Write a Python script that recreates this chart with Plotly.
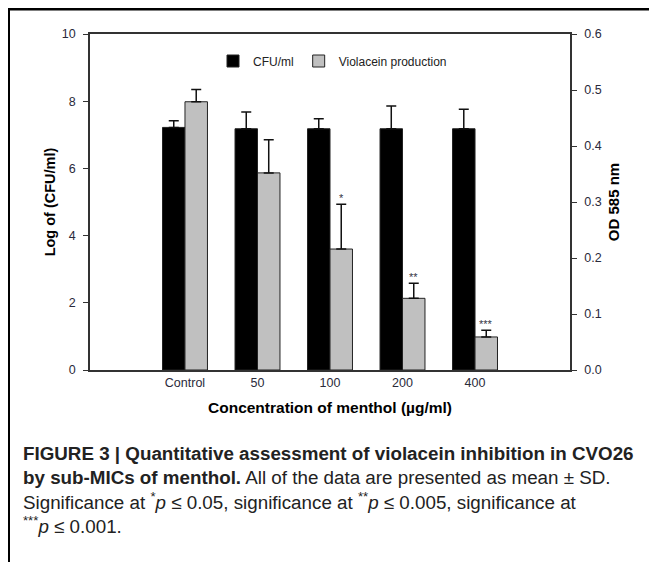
import plotly.graph_objects as go

categories = ["Control", "50", "100", "200", "400"]
cfu_mean = [7.22, 7.18, 7.18, 7.18, 7.18]
cfu_sd = [0.20, 0.50, 0.30, 0.68, 0.58]
vio_mean = [0.479, 0.352, 0.216, 0.128, 0.059]
vio_sd = [0.022, 0.059, 0.080, 0.027, 0.012]
significance = ["", "", "*", "**", "***"]
left_ticks = [0, 2, 4, 6, 8, 10]
right_ticks = [0.0, 0.1, 0.2, 0.3, 0.4, 0.5, 0.6]

xpos = list(range(len(categories)))
FONT = "Arial, Liberation Sans, sans-serif"
TICK_COLOR = "#2a2a3a"
BW = 0.31

# figure geometry (page is offset by the 8px body margin)
W, H = 649, 554
L, T, PW, PH = 82, 26, 480, 336


def px(fx):
    return (fx - L) / PW


def py(fy):
    return 1 - (fy - T) / PH


fig = go.Figure()
fig.add_trace(go.Bar(
    x=xpos, y=cfu_mean, name="CFU/ml", yaxis="y",
    width=BW, offset=-BW,
    marker=dict(color="#000000", line=dict(color="#222222", width=1)),
    error_y=dict(type="data", symmetric=False, array=cfu_sd,
                 arrayminus=[0] * len(cfu_sd), color="#111111",
                 thickness=1.5, width=5),
))
fig.add_trace(go.Bar(
    x=xpos, y=vio_mean, name="Violacein production", yaxis="y2",
    width=BW, offset=0,
    marker=dict(color="#c0c0c0", line=dict(color="#222222", width=1)),
    error_y=dict(type="data", symmetric=False, array=vio_sd,
                 arrayminus=[0] * len(vio_sd), color="#111111",
                 thickness=1.5, width=5),
))

for i, s in enumerate(significance):
    if s:
        fig.add_annotation(x=xpos[i] + BW / 2, y=vio_mean[i] + vio_sd[i],
                           xref="x", yref="y2", text=s, showarrow=False,
                           yanchor="bottom", yshift=-2,
                           font=dict(family=FONT, size=11, color="#333344"))

caption = ("<b>FIGURE 3 | Quantitative assessment of violacein inhibition in CVO26</b><br>"
           "<b>by sub-MICs of menthol.</b> All of the data are presented as mean ± SD.<br>"
           "Significance at <sup>*</sup><i>p</i> ≤ 0.05, significance at <sup>**</sup><i>p</i> ≤ 0.005, significance at<br>"
           "<sup>***</sup><i>p</i> ≤ 0.001.")
fig.add_annotation(xref="paper", yref="paper", x=px(13), y=py(433),
                   xanchor="left", yanchor="top", align="left", showarrow=False,
                   text=caption,
                   font=dict(family="Liberation Sans, Arial, sans-serif", size=18.8, color="#222222"))

# outer frame (top and left lines)
fig.add_shape(type="line", xref="paper", yref="paper",
              x0=px(0), x1=px(W + 2), y0=py(1), y1=py(1),
              line=dict(color="#000000", width=3))
fig.add_shape(type="line", xref="paper", yref="paper",
              x0=px(0.5), x1=px(0.5), y0=py(-1), y1=py(H + 2),
              line=dict(color="#000000", width=3))

fig.update_layout(
    width=W, height=H,
    margin=dict(l=L, r=W - L - PW, t=T, b=H - T - PH, pad=0),
    paper_bgcolor="white", plot_bgcolor="white",
    showlegend=True,
    legend=dict(orientation="h", x=px(205), xanchor="left", y=py(53), yanchor="middle",
                font=dict(family=FONT, size=12, color="#222222"),
                bgcolor="rgba(0,0,0,0)", itemwidth=30, tracegroupgap=0),
    xaxis=dict(range=[-1.31, 5.31], tickmode="array", tickvals=xpos, ticktext=categories,
               showline=True, linecolor="#333333", linewidth=1.5, mirror=True,
               ticks="", showgrid=False, zeroline=False,
               tickfont=dict(family=FONT, size=12.5, color=TICK_COLOR),
               title=dict(text="<b>Concentration of menthol (µg/ml)</b>",
                          font=dict(family=FONT, size=15.5, color="#000000"), standoff=13)),
    yaxis=dict(range=[0, 10], tickvals=left_ticks, showline=True, linecolor="#333333",
               linewidth=1.5, ticks="outside", ticklen=5, tickcolor="#333333",
               showgrid=False, zeroline=False, ticklabelstandoff=5,
               tickfont=dict(family=FONT, size=12.5, color=TICK_COLOR),
               title=dict(text="<b>Log of (CFU/ml)</b>",
                          font=dict(family=FONT, size=14.5, color="#000000"), standoff=3)),
    yaxis2=dict(range=[0, 0.6], tickvals=right_ticks, tickformat=".1f", overlaying="y",
                side="right", showline=True, linecolor="#333333", linewidth=1.5,
                ticks="outside", ticklen=5, tickcolor="#333333",
                showgrid=False, zeroline=False, ticklabelstandoff=5,
                tickfont=dict(family=FONT, size=12.5, color=TICK_COLOR),
                title=dict(text="<b>OD 585 nm</b>",
                           font=dict(family=FONT, size=15, color="#000000"), standoff=8)),
)

fig.write_html("out.html")
